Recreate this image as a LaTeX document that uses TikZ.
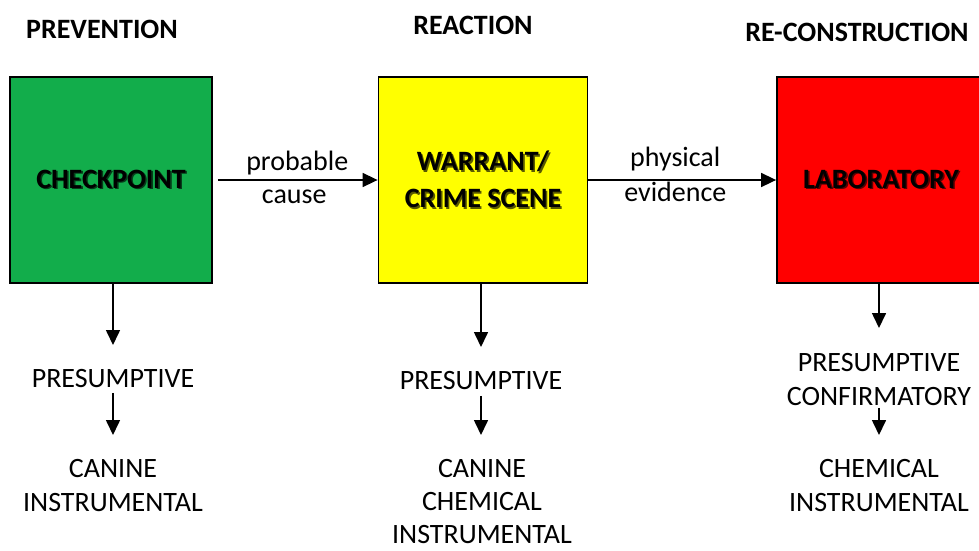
\documentclass[tikz,border=0pt]{standalone}
\usepackage{fontspec}
\setmainfont{Carlito}
\usetikzlibrary{arrows.meta}
\definecolor{boxgreen}{HTML}{12AD4B}
\definecolor{boxyellow}{HTML}{FFFF00}
\definecolor{boxred}{HTML}{FF0000}
\newcommand{\shtext}[2]{\rlap{\kern1.6pt\raisebox{-1.6pt}{\color{#1!35!black}#2}}#2}
\begin{document}
\begin{tikzpicture}[x=1pt,y=-1pt,
  every node/.style={font=\fontsize{28}{34}\selectfont, inner sep=0pt},
  stagebox/.style={draw=black, line width=1.8pt, minimum width=202pt, minimum height=206pt, align=center, font=\fontsize{28}{37}\selectfont\bfseries},
  heading/.style={anchor=base, font=\fontsize{28}{34}\selectfont\bfseries},
  listtext/.style={anchor=north, align=center},
  flow/.style={line width=1.6pt, -{Triangle[length=15pt,width=14pt]}},
  elabel/.style={anchor=base}
]
\useasboundingbox (0,0) rectangle (979,550);
\fill[white] (0,0) rectangle (979,550);

% headings
\node[heading] (h1) at (102,38) {PREVENTION};
\node[heading] (h2) at (473,34) {REACTION};
\node[heading] (h3) at (857,41) {RE-CONSTRUCTION};

% stage boxes
\node[stagebox, fill=boxgreen] (g) at (111,180) {\shtext{boxgreen}{CHECKPOINT}};
\node[stagebox, fill=boxyellow, minimum width=209pt] (y) at (483,180) {\shtext{boxyellow}{WARRANT/}\\\shtext{boxyellow}{CRIME SCENE}};
\node[stagebox, fill=boxred, minimum width=208pt] (r) at (881,180) {\shtext{boxred}{LABORATORY}};

% horizontal connectors
\draw[flow, shorten <=5pt] (g.east) -- node[elabel, yshift=10pt, xshift=2pt] (l1) {probable} node[elabel, yshift=-23pt, xshift=-1pt] (l2) {cause} (y.west);
\draw[flow] (y.east) -- node[elabel, yshift=14pt, xshift=-7pt] (l3) {physical} node[elabel, yshift=-21pt, xshift=-7pt] (l4) {evidence} (r.west);

% lower lists
\node[listtext] (gp) at (113,369) {PRESUMPTIVE};
\node[listtext] (gb) at (113,459) {CANINE\\INSTRUMENTAL};
\node[listtext] (yp) at (481,371) {PRESUMPTIVE};
\node[listtext, font=\fontsize{28}{33}\selectfont] (yb) at (482,459) {CANINE\\CHEMICAL\\INSTRUMENTAL};
\node[listtext] (rp) at (879,353) {PRESUMPTIVE\\CONFIRMATORY};
\node[listtext] (rb) at (879,459) {CHEMICAL\\INSTRUMENTAL};

% vertical connectors
\draw[flow, shorten >=24pt] (gp.north |- g.south) -- (gp.north);
\draw[flow, shorten >=24pt] (yp.north |- y.south) -- (yp.north);
\draw[flow, shorten >=25pt] (rp.north |- r.south) -- (rp.north);
\draw[flow, shorten <=5pt, shorten >=24pt] (gp.south) -- (gp.south |- gb.north);
\draw[flow, shorten <=6pt, shorten >=24pt] (yp.south) -- (yp.south |- yb.north);
\draw[flow, shorten <=2pt, shorten >=24pt] (rp.south) -- (rb.north);
\end{tikzpicture}
\end{document}
